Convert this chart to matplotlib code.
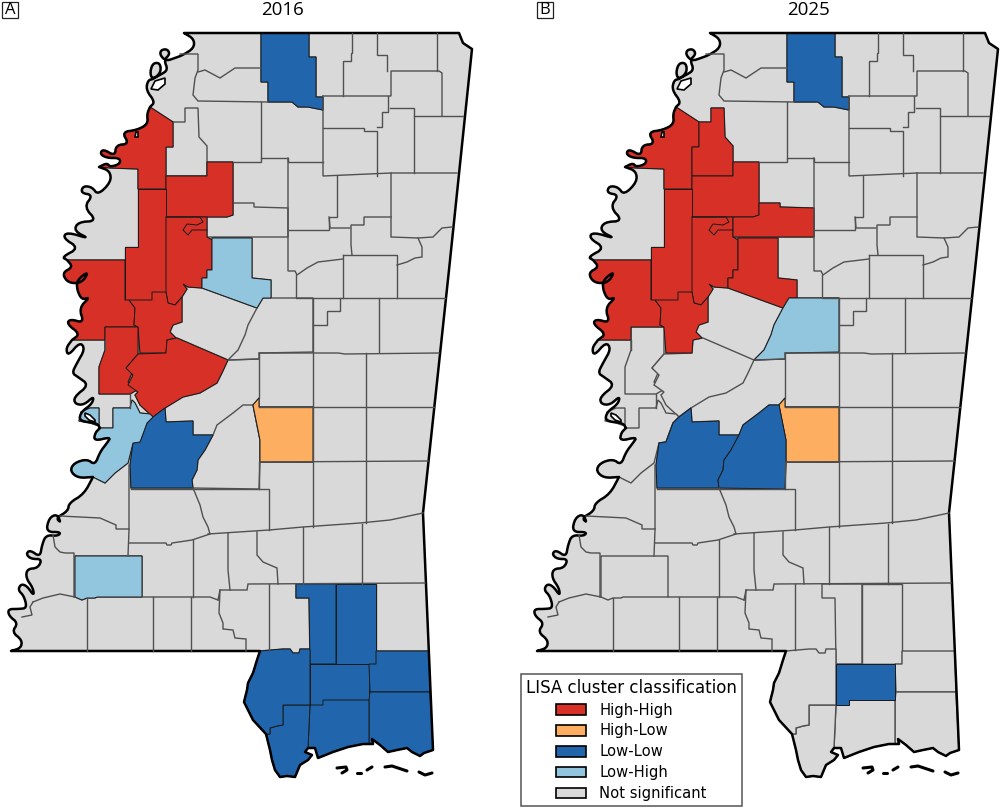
import matplotlib
matplotlib.use("Agg")
import matplotlib.pyplot as plt
from matplotlib.patches import Patch, Polygon, Rectangle


def rounded(points, passes=2):
    # redondea los meandros del rio, los extremos no se mueven
    for _ in range(passes):
        new = [points[0]]
        for (x0, y0), (x1, y1) in zip(points[:-1], points[1:]):
            new.append((0.75 * x0 + 0.25 * x1, 0.75 * y0 + 0.25 * y1))
            new.append((0.25 * x0 + 0.75 * x1, 0.25 * y0 + 0.75 * y1))
        new.append(points[-1])
        points = new
    return points


# limites del estado (coordenadas del mapa), de norte a sur por el rio
river_north = rounded([(184, 33), (194, 39), (194, 48), (183, 55), (175, 58), (166, 61), (160, 55), (161, 50), (167, 49),
                       (170, 54), (164, 60), (168, 70), (160, 75), (152, 79), (150, 72), (153, 63), (160, 63), (161, 72),
                       (154, 79), (148, 80), (146, 90), (155, 102), (150, 107)])
river_coahoma = rounded([(150, 107), (147, 114), (148, 124), (137, 130), (122, 132), (129, 144), (116, 145), (115, 156),
                         (103, 149), (100, 154), (107, 158), (120, 158), (120, 164), (110, 167), (107, 163), (99, 167)])
river_bolivar = rounded([(99, 167), (110, 171), (111, 182), (98, 195), (92, 187), (83, 186), (81, 193), (93, 195),
                         (84, 207), (97, 221), (78, 222), (74, 231), (90, 239), (67, 232), (63, 238), (79, 248),
                         (62, 257), (67, 260)])
river_washington = rounded([(67, 260), (73, 267), (62, 273), (68, 283), (82, 283), (89, 271), (77, 280), (77, 290),
                            (82, 300), (90, 297), (79, 308), (84, 323), (70, 319), (67, 324), (80, 334), (72, 340)])
river_issaquena = rounded([(72, 340), (66, 348), (68, 356), (80, 342), (85, 349), (77, 363), (72, 373), (78, 377),
                           (89, 385), (74, 397), (75, 404), (84, 405), (94, 396), (92, 404), (81, 412), (79, 421),
                           (97, 423), (100, 428)])
river_warren = rounded([(100, 428), (95, 433), (94, 441), (111, 437), (107, 443), (100, 452), (95, 465), (87, 459),
                        (74, 463), (70, 471), (78, 478), (93, 477)])
river_south = rounded([(93, 477), (84, 494), (69, 503), (68, 511), (56, 518), (61, 523), (57, 514), (49, 518), (46, 532),
                       (61, 532), (58, 536), (46, 535), (42, 545), (40, 557), (30, 550), (26, 554), (31, 559), (42, 559),
                       (38, 568), (27, 569), (26, 578), (33, 588), (34, 596), (27, 586), (21, 584), (18, 590), (24, 596),
                       (27, 608), (19, 609), (8, 609), (9, 616), (18, 623), (12, 632), (22, 640), (21, 648), (11, 651)])

top_east = [(184, 33), (459, 33), (463, 43), (472, 49), (449, 270), (423, 513), (433, 750)]
coast_jackson = [(433, 750), (424, 753), (420, 756), (412, 752), (407, 748), (397, 750), (388, 752), (380, 745),
                 (372, 739), (373, 744), (369, 744)]
coast_harrison = [(369, 744), (363, 744), (348, 747), (333, 752), (318, 758), (315, 748), (308, 748)]
coast_hancock = [(308, 748), (305, 752), (312, 755), (308, 760), (300, 765), (295, 777), (287, 776), (280, 777),
                 (275, 770), (272, 760), (270, 750), (266, 734)]
coast_pearl = [(266, 734), (253, 720), (248, 710), (244, 702), (247, 690), (248, 683), (253, 673), (257, 660),
               (260, 651)]

state_outline = (top_east + coast_jackson + coast_harrison + coast_hancock + coast_pearl
                 + river_south[::-1] + river_warren[::-1] + river_issaquena[::-1]
                 + river_washington[::-1] + river_bolivar[::-1] + river_coahoma[::-1] + river_north[::-1])

# islas de la costa y lagos en herradura
islands = [[(337, 768), (346, 767), (347, 770), (342, 773)], [(357, 773), (361, 773)], [(367, 770), (372, 767)],
           [(385, 767), (392, 766), (407, 771)], [(419, 772), (425, 775), (432, 773)]]
oxbows = [[(151, 89), (155, 81), (165, 78), (165, 84), (158, 90)],
          [(135, 137), (136, 132), (138, 132), (138, 137)],
          [(85, 413), (90, 415), (95, 420), (95, 422), (89, 420), (85, 416)]]

# condados del mapa
counties = {
    "Marshall": [(261, 33), (309, 33), (309, 57), (316, 57), (316, 97), (323, 97), (323, 110), (308, 107), (298, 107),
                 (292, 102), (268, 102), (268, 82), (261, 82)],
    "Coahoma": river_coahoma + [(110, 168), (138, 169), (138, 189), (166, 189), (166, 147), (173, 147), (173, 122)],
    "Quitman": [(173, 122), (185, 122), (185, 108), (198, 108), (199, 137), (207, 146), (207, 176), (166, 176),
                (166, 147), (173, 147)],
    "Tallahatchie": [(166, 176), (207, 176), (207, 162), (233, 162), (233, 215), (227, 217), (166, 217)],
    "Sunflower": [(138, 189), (166, 189), (166, 292), (152, 292), (152, 300), (125, 300), (125, 247), (138, 247)],
    "Leflore": [(166, 217), (207, 217), (207, 237), (212, 240), (212, 270), (207, 270), (207, 278), (202, 278),
                (202, 288), (188, 287), (183, 284), (187, 289), (182, 297), (175, 305), (168, 303), (166, 292)],
    "Carroll": [(207, 217), (227, 217), (233, 215), (233, 203), (254, 203), (254, 207), (288, 208), (288, 237),
                (207, 237)],
    "Holmes": [(212, 238), (252, 238), (252, 278), (271, 280), (271, 298), (263, 298), (257, 308), (202, 288),
               (202, 278), (207, 278), (207, 270), (212, 270)],
    "Washington": river_washington + [(105, 340), (105, 327), (138, 327), (134, 325), (135, 308), (129, 300),
                                      (125, 300), (125, 260)],
    "Humphreys": [(129, 300), (152, 300), (152, 292), (166, 292), (168, 303), (175, 305), (182, 297), (182, 322),
                  (173, 325), (170, 332), (176, 338), (167, 340), (166, 353), (140, 353), (138, 327), (134, 325),
                  (135, 308)],
    "Sharkey": [(105, 327), (138, 327), (138, 354), (126, 368), (132, 373), (128, 382), (137, 390), (130, 394),
                (99, 394), (99, 367), (105, 350)],
    "Yazoo": [(167, 340), (177, 338), (228, 360), (222, 373), (217, 383), (200, 393), (183, 397), (165, 408),
              (153, 417), (140, 405), (135, 395), (138, 392), (128, 385), (133, 375), (126, 368), (138, 354),
              (166, 353)],
    "Madison": [(263, 298), (313, 298), (313, 352), (259, 353), (259, 359), (228, 360), (238, 350), (245, 335),
                (248, 325), (257, 308)],
    "Warren": [(113, 408), (130, 408), (132, 400), (135, 403), (140, 413), (150, 414), (153, 417), (147, 423),
               (140, 442), (133, 443), (128, 463), (115, 473), (105, 483)] + river_warren[::-1] + [(99, 428), (113, 428)],
    "Warren West": [(90, 408), (99, 408), (99, 426), (90, 423), (79, 421), (81, 412)],
    "Hinds": [(153, 417), (165, 408), (166, 422), (193, 421), (193, 435), (213, 435), (205, 450), (198, 460),
              (197, 470), (192, 480), (193, 488), (131, 488), (130, 465), (133, 443), (140, 442), (147, 423)],
    "Rankin": [(193, 488), (259, 489), (260, 462), (260, 440), (253, 405), (243, 405), (233, 413), (217, 425),
               (213, 435), (205, 450), (198, 460), (197, 470), (192, 480)],
    "Smith": [(253, 405), (259, 398), (259, 407), (313, 407), (313, 462), (260, 462), (260, 440)],
    "Franklin": [(75, 556), (142, 556), (142, 597), (97, 597), (95, 598), (87, 598), (82, 600), (75, 597)],
    "Forrest": [(296, 584), (336, 584), (336, 664), (310, 664), (309, 598), (296, 598)],
    "Perry": [(336, 584), (376, 584), (376, 664), (336, 664)],
    "Stone": [(310, 664), (369, 664), (369, 700), (323, 700), (323, 705), (310, 705)],
    "George": [(376, 651), (429, 651), (430, 692), (370, 692), (369, 664), (376, 664)],
    "Jackson": [(370, 692), (430, 692)] + coast_jackson + [(369, 700)],
    "Harrison": [(369, 700)] + coast_harrison + [(310, 705), (323, 705), (323, 700)],
    "Hancock": [(310, 705)] + coast_hancock + [(270, 734), (270, 728), (277, 726), (283, 725), (283, 705)],
    "Pearl River": [(260, 651), (283, 649), (290, 649), (293, 653), (299, 653), (300, 649), (310, 649), (310, 664),
                    (310, 705), (283, 705), (283, 725), (277, 726), (270, 728), (270, 734)] + coast_pearl,
}

# limites interiores entre los demas condados
county_lines = [
    [(180, 54), (198, 54), (198, 70), (195, 78), (193, 95), (198, 101), (268, 102)],
    [(198, 72), (205, 70), (220, 78), (235, 68), (261, 68)],
    [(233, 162), (261, 162), (261, 158), (288, 158), (288, 162), (323, 162)],
    [(261, 102), (261, 158)],
    [(288, 158), (288, 271), (295, 271), (297, 275), (307, 268), (318, 262), (343, 259)],
    [(296, 275), (296, 298), (445, 298)],
    [(289, 230), (329, 230), (329, 217), (337, 217), (337, 176)],
    [(323, 96), (323, 176), (391, 173), (457, 173)],
    [(323, 128), (364, 128), (364, 131), (377, 131), (377, 176)],
    [(377, 127), (382, 127), (382, 112), (388, 112), (388, 96)],
    [(323, 96), (391, 96), (391, 71), (439, 71), (442, 73), (442, 116)],
    [(390, 108), (414, 108), (414, 173)],
    [(414, 116), (463, 116)],
    [(437, 33), (437, 71)],
    [(387, 71), (387, 55), (377, 55), (377, 33)],
    [(352, 33), (352, 53), (351, 53), (351, 61), (343, 61), (343, 96)],
    [(391, 173), (391, 237), (418, 238), (433, 237), (442, 228), (452, 227)],
    [(391, 217), (364, 217), (364, 225), (351, 225), (351, 245), (352, 255)],
    [(350, 228), (330, 228), (329, 217)],
    [(343, 255), (397, 255), (397, 298)],
    [(343, 255), (343, 298)],
    [(418, 238), (422, 247), (422, 257), (415, 258), (407, 262), (397, 265)],
    [(340, 298), (340, 311), (327, 311), (327, 325), (313, 325)],
    [(379, 298), (379, 352)],
    [(313, 298), (313, 527)],
    [(366, 353), (366, 523)],
    [(259, 353), (338, 353), (345, 354), (439, 353)],
    [(259, 407), (434, 407)],
    [(260, 462), (428, 461)],
    [(259, 353), (259, 398)],
    [(131, 489), (269, 489), (269, 530)],
    [(259, 462), (259, 489)],
    [(193, 488), (200, 505), (203, 517), (208, 527), (210, 534), (192, 540), (172, 543), (171, 545), (167, 545),
     (166, 543), (129, 543)],
    [(208, 534), (269, 530), (303, 527), (360, 523), (390, 520), (423, 513)],
    [(129, 465), (129, 530), (128, 556)],
    [(60, 516), (100, 518), (116, 525), (116, 529), (129, 529)],
    [(53, 535), (55, 547), (60, 552), (65, 553), (74, 553), (74, 597)],
    [(33, 602), (43, 598), (60, 594), (75, 597)],
    [(33, 602), (30, 607), (32, 615), (22, 617)],
    [(87, 598), (87, 651)],
    [(142, 597), (210, 597), (218, 600)],
    [(153, 597), (153, 651)],
    [(191, 597), (191, 651)],
    [(193, 540), (193, 597)],
    [(220, 590), (219, 613), (223, 623), (223, 629), (233, 630), (235, 638), (246, 639), (246, 651)],
    [(218, 600), (220, 590), (247, 590), (248, 584), (425, 583)],
    [(228, 533), (228, 570), (230, 590)],
    [(257, 532), (257, 555), (263, 562), (277, 568), (278, 584)],
    [(303, 527), (303, 584)],
    [(362, 524), (362, 584)],
    [(269, 584), (269, 650)],
    [(105, 340), (105, 350)],
    [(228, 360), (259, 359)],
    [(130, 394), (130, 408)],
]

# meandro interior del rio Yazoo en Leflore
yazoo_bend = [(166, 217), (200, 217), (203, 222), (197, 225), (187, 224), (183, 230), (188, 235), (192, 230), (207, 230)]

# clasificacion LISA por panel
class_names = ["High-High", "High-Low", "Low-Low", "Low-High", "Not significant"]
class_colors = ["#d73027", "#fdae61", "#2166ac", "#92c5de", "#d9d9d9"]

years = ["2016", "2025"]
high_high = [["Coahoma", "Tallahatchie", "Sunflower", "Leflore", "Washington", "Humphreys", "Sharkey", "Yazoo"],
             ["Coahoma", "Quitman", "Tallahatchie", "Sunflower", "Leflore", "Carroll", "Holmes", "Washington",
              "Humphreys"]]
high_low = [["Smith"], ["Smith"]]
low_low = [["Marshall", "Hinds", "Forrest", "Perry", "Stone", "George", "Jackson", "Harrison", "Hancock",
            "Pearl River"],
           ["Marshall", "Hinds", "Rankin", "Stone"]]
low_high = [["Holmes", "Warren", "Warren West", "Franklin"], ["Madison"]]

panel_letters = ["A", "B"]


def draw_map(ax, i):
    ax.add_patch(Polygon(state_outline, closed=True, facecolor=class_colors[4], edgecolor="none"))
    for line in county_lines:
        xs, ys = zip(*line)
        ax.plot(xs, ys, color="#505050", lw=1.0, solid_joinstyle="miter")
    for shape in counties.values():
        ax.add_patch(Polygon(shape, closed=True, facecolor=class_colors[4], edgecolor="#505050", lw=1.0))

    groups = [high_high[i], high_low[i], low_low[i], low_high[i]]
    for names, color in zip(groups, class_colors):
        for name in names:
            ax.add_patch(Polygon(counties[name], closed=True, facecolor=color, edgecolor="#1a1a1a", lw=0.7))

    xs, ys = zip(*yazoo_bend)
    ax.plot(xs, ys, color="#1a1a1a", lw=0.7)

    ax.add_patch(Polygon(state_outline, closed=True, facecolor="none", edgecolor="black", lw=1.8,
                         joinstyle="round"))
    for oxbow in oxbows:
        ax.add_patch(Polygon(oxbow, closed=True, facecolor="white", edgecolor="black", lw=1.2))
    for isla in islands:
        xs, ys = zip(*isla)
        ax.plot(xs, ys, color="black", lw=2.2, solid_capstyle="round")

    ax.set_xlim(0, ax.get_position().width * 1000)
    ax.set_ylim(808, 0)
    ax.axis("off")
    ax.text(282, 10, years[i], ha="center", va="center", fontsize=13.5, family="Open Sans", color="black")


fig = plt.figure(figsize=(10, 8.08), dpi=100)
ax1 = fig.add_axes([0, 0, 0.526, 1])
ax2 = fig.add_axes([0.526, 0, 0.474, 1])
draw_map(ax1, 0)
draw_map(ax2, 1)

# letras de panel
for x, letter in zip([2, 537], panel_letters):
    fig.add_artist(Rectangle((x / 1000, 1 - 18 / 808), 16 / 1000, 16 / 808, transform=fig.transFigure,
                             facecolor="white", edgecolor="#222222", lw=0.9))
    fig.text((x + 8) / 1000, 1 - 10 / 808, letter, ha="center", va="center", fontsize=12, family="Open Sans")

handles = [Patch(facecolor=c, edgecolor="black", lw=1.2, label=n) for c, n in zip(class_colors, class_names)]
legend = fig.legend(handles=handles, title="LISA cluster classification", loc="lower left",
                    bbox_to_anchor=(0.521, 0.0025), fontsize=10.6, title_fontsize=12, fancybox=False, framealpha=1,
                    edgecolor="#555555", handlelength=2.05, handleheight=0.75, labelspacing=0.4, borderpad=0.33,
                    handletextpad=0.9, borderaxespad=0)
legend.get_frame().set_linewidth(1.1)

fig.savefig("out.png", dpi=100, facecolor="white")
